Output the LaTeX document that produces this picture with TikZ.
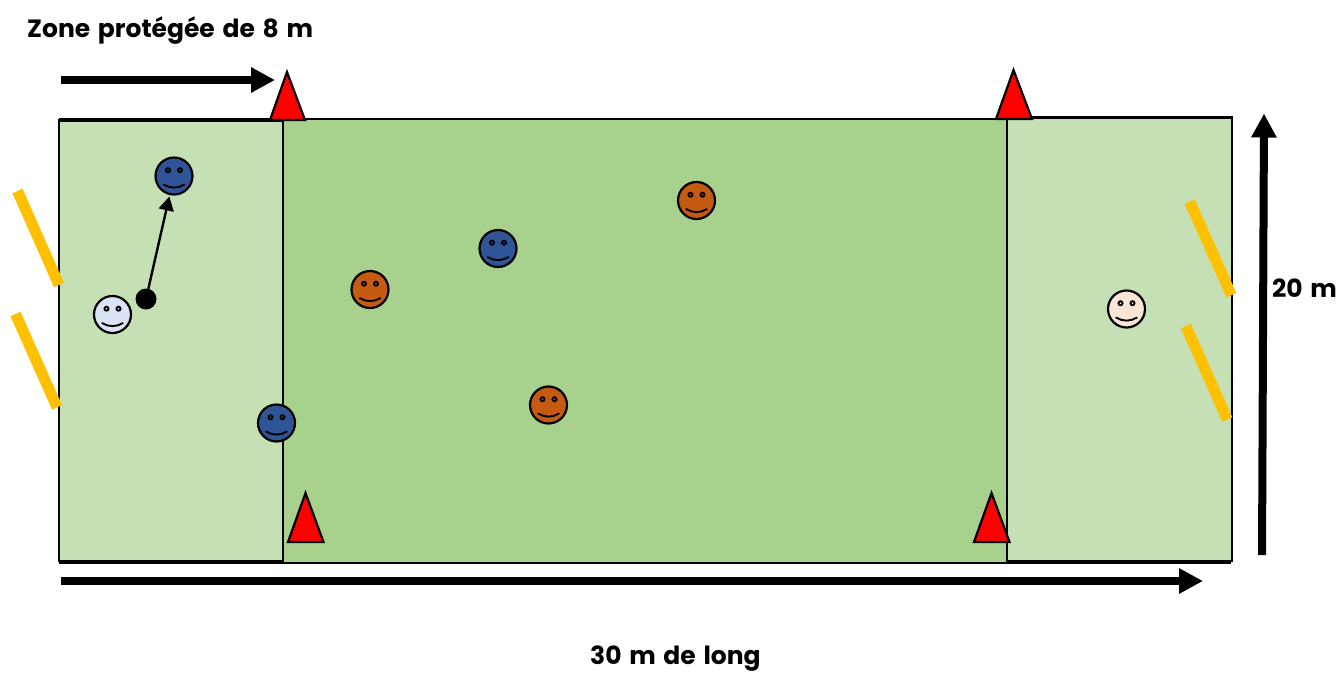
\documentclass[tikz,border=0pt]{standalone}
\usepackage{fontspec}
\setmainfont{Poppins}[BoldFont={Poppins Bold},WordSpace=1.45]
\usetikzlibrary{arrows.meta}
\definecolor{zonecol}{HTML}{C5E0B4}
\definecolor{fieldcol}{HTML}{A9D18E}
\definecolor{barcol}{HTML}{FFC000}
\definecolor{bluecol}{HTML}{2F5597}
\definecolor{icecol}{HTML}{DAE3F3}
\definecolor{orangecol}{HTML}{C55A11}
\definecolor{pinkcol}{HTML}{FBE5D6}
\tikzset{
  zone/.style={draw=black,line width=2.1pt,fill=zonecol},
  field/.style={draw=black,line width=2.1pt,fill=fieldcol},
  cone/.style={draw=black,line width=2.2pt,fill=red,line join=miter},
  goalbar/.style={draw=barcol,line width=11pt},
  bigarrow/.style={line width=8pt,-{Triangle[length=24pt,width=24pt]}},
  lab/.style={font=\bfseries\fontsize{25}{29}\selectfont,inner sep=0pt,anchor=base west},
  smiley/.style={circle,draw=black,line width=2.2pt,fill=#1,minimum size=37pt,inner sep=0pt,outer sep=1pt,
    path picture={
      \draw[line width=1.9pt] ([shift={(-6,-5.8)}]path picture bounding box.center) circle (2pt);
      \draw[line width=1.9pt] ([shift={(6,-5.8)}]path picture bounding box.center) circle (2pt);
      \draw[line width=1.9pt,line cap=round] ([shift={(-10.3,8.6)}]path picture bounding box.center)
        .. controls ([shift={(-4,12.6)}]path picture bounding box.center) and ([shift={(4,12.6)}]path picture bounding box.center)
        .. ([shift={(10.3,8.6)}]path picture bounding box.center);
    }},
}
\begin{document}
\begin{tikzpicture}[x=1pt,y=-1pt]
\useasboundingbox (0,0) rectangle (1338,673);
% pitch
\draw[field] (60,119) rectangle (1230,563);
\draw[zone] (59,120.5) rectangle (283,561);
\draw[zone] (1007,117.5) rectangle (1232,561);
% goals
\draw[goalbar] (17.5,191) -- (59,285);
\draw[goalbar] (15.5,314) -- (57,407.3);
\draw[goalbar] (1189.7,201.7) -- (1231.3,295.2);
\draw[goalbar] (1185.8,326) -- (1227.3,419.5);
% cones
\draw[cone] (287,72) -- (305,120) -- (270,120) -- cycle;
\draw[cone] (1013.5,70) -- (1032,119) -- (996,119) -- cycle;
\draw[cone] (305.5,493) -- (323.5,542) -- (288,542) -- cycle;
\draw[cone] (991.5,493) -- (1009.5,542) -- (974,542) -- cycle;
% players
\node[smiley=bluecol] (blueA) at (174,176) {};
\node[smiley=bluecol] (blueB) at (276.5,423) {};
\node[smiley=bluecol] (blueC) at (498,248.5) {};
\node[smiley=icecol] (ice) at (112.5,314.5) {};
\node[smiley=orangecol] (orangeA) at (370,289.5) {};
\node[smiley=orangecol] (orangeB) at (696.5,200.5) {};
\node[smiley=orangecol] (orangeC) at (548.5,405) {};
\node[smiley=pinkcol] (pink) at (1126.5,309) {};
% ball and pass
\node[circle,fill=black,minimum size=21pt,inner sep=0pt,outer sep=0pt] (ball) at (146,299) {};
\draw[line width=2.4pt,-{Triangle[length=14pt,width=15pt]},shorten >=1.5pt] (ball) -- (blueA);
% dimension arrows
\coordinate (zs) at (61,80);
\coordinate (ze) at (275,80);
\coordinate (ls) at (61,581);
\coordinate (le) at (1203,581);
\coordinate (hs) at (1262,555);
\coordinate (he) at (1264,113.5);
\draw[bigarrow] (zs) -- (ze);
\draw[bigarrow] (ls) -- (le);
\draw[bigarrow] (hs) -- (he);
% labels
\node[lab] (zonelabel) at (27,37) {Zone protégée de 8 m};
\node[lab] (longlabel) at (590,664) {30 m de long};
\node[lab] (largelabel) at (1272,297) {20 m};
\end{tikzpicture}
\end{document}
